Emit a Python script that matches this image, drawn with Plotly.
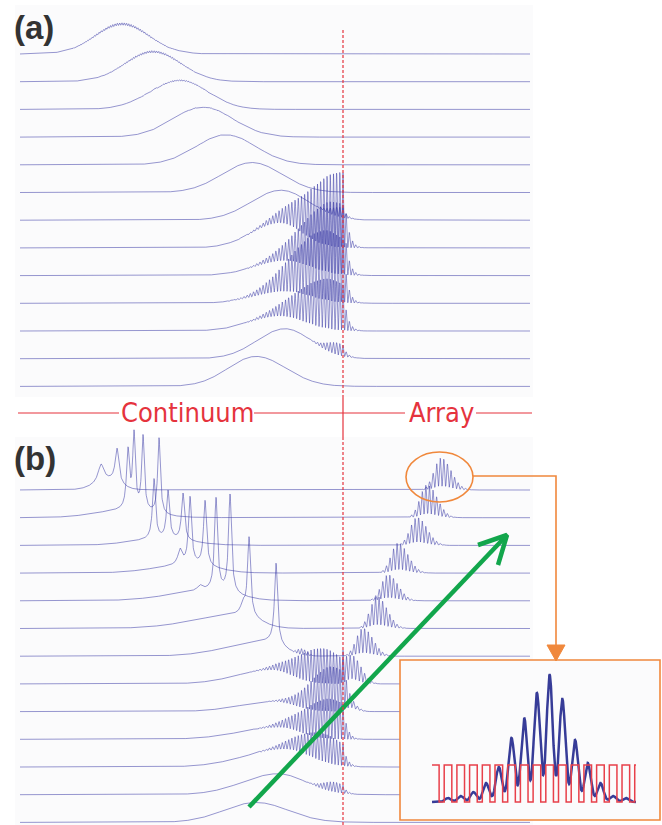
import numpy as np
import plotly.graph_objects as go

W, H = 662, 825
X_START, X_END = 20, 530          # horizontal extent of every trace
WALL_X = 343                      # continuum / array interface
ROW_STEP = 27.7                   # vertical offset between time steps
A_FIRST_BASE = 54                 # baseline of the first row in panel (a)
B_FIRST_BASE = 490                # baseline of the first row in panel (b)
FRINGE_PERIOD = 3.2               # interference fringe spacing
GUIDE_PERIOD = 3.6                # spacing of guides in the array

TRACE_COLOR = "rgba(55,55,165,0.52)"
RED = "#e5333d"
ORANGE = "#f0883c"
GREEN = "#12a64c"
PANEL_BG = "#fbfbfc"

# ---------------- panel (a): packet reflected at the interface -------------
a_pk_center = [122, 153, 180, 203, 226, 252, 281, 280, 285, 285, 280, 285, 256]
a_pk_height = [30, 30, 29, 30, 30, 30, 30, 25, 15, 12, 15, 30, 30]
a_pk_sig_l = [27, 28, 30, 30, 30, 30, 30, 28, 30, 30, 30, 28, 28]
a_pk_sig_r = [27, 28, 28, 30, 30, 30, 28, 22, 25, 25, 25, 26, 30]
a_ripple = [1.2, 1.0, 0.6, 0.3, 0.2, 0, 0, 0, 0, 0, 0, 0, 0]
a_fr_center = [0, 0, 0, 0, 0, 0, 343, 340, 335, 328, 330, 338, 0]
a_fr_height = [0, 0, 0, 0, 0, 0, 10, 75, 72, 70, 50, 12, 0]
a_fr_sigma = [1, 1, 1, 1, 1, 1, 12, 32, 30, 32, 30, 12, 1]

# ---------------- panel (b): coupling into the array ----------------------
b_ped_center = [110, 125, 160, 190, 210, 240, 268, 272, 275, 280, 285, 278, 256]
b_ped_height = [9, 7, 6, 8, 10, 14, 15, 14, 10, 12, 18, 21, 20]
b_ped_sig_l = [14, 30, 30, 35, 40, 45, 40, 35, 35, 40, 40, 35, 32]
b_ped_sig_r = [10, 25, 30, 25, 25, 18, 15, 20, 20, 20, 25, 28, 32]
b_lines = [
    [(101, 18, 3.5), (117, 34, 2.2)],
    [(128, 58, 1.8), (134, 74, 1.6), (143, 74, 1.6), (159, 76, 1.6)],
    [(154, 60, 1.8), (168, 48, 1.8), (183, 47, 1.8)],
    [(180, 15, 2.5), (190, 67, 1.8), (205, 65, 1.8)],
    [(200, 5, 3.0), (216, 92, 1.8), (230, 98, 1.8)],
    [(243, 10, 2.5), (249, 78, 1.8)],
    [(276, 80, 1.8)],
    [], [], [], [], [], [],
]
b_fr_center = [0, 0, 0, 0, 0, 0, 302, 322, 332, 330, 325, 335, 0]
b_fr_height = [0, 0, 0, 0, 0, 0, 6, 35, 45, 40, 28, 10, 0]
b_fr_sigma = [1, 1, 1, 1, 1, 1, 5, 25, 22, 26, 25, 12, 1]
b_arr_center = [441, 427, 417, 398, 388, 377, 363, 352, 346, 0, 0, 0, 0]
b_arr_height = [32, 33, 28, 30, 26, 32, 28, 28, 15, 0, 0, 0, 0]
b_arr_sig_l = [7, 7, 7, 7, 7, 7, 7, 6, 5, 1, 1, 1, 1]
b_arr_sig_r = [10, 10, 10, 10, 10, 10, 10, 9, 8, 1, 1, 1, 1]

# ---------------- inset: guide intensities and index profile --------------
inset_sites = list(range(15))
inset_power = [4, 6, 10, 19, 35, 64, 84, 109, 127, 103, 62, 39, 19, 6, 4]
inset_x_span = [-1.26, 14.8]
inset_index_high = 37
inset_guide_ids = list(range(-1, 16))
inset_guide_half = 0.3

x = np.arange(X_START, X_END + 0.001, 0.25)


def asym_gauss(xv, c, h, sl, sr):
    s = np.where(xv < c, sl, sr)
    return h * np.exp(-0.5 * ((xv - c) / s) ** 2)


def fringe(xv, c, h, s):
    if h == 0:
        return np.zeros_like(xv)
    inside = np.exp(-0.5 * ((xv - c) / s) ** 2)
    edge = np.exp(-0.5 * ((WALL_X - c) / s) ** 2) * np.exp(-(xv - WALL_X) / 4.0)
    env = np.where(xv <= WALL_X, inside, edge)
    return h * env * np.cos(np.pi * (xv - WALL_X) / FRINGE_PERIOD) ** 2


def sharp_lines(xv, peaks):
    out = np.zeros_like(xv)
    for c, h, w in peaks:
        out += h / (1 + ((xv - c) / w) ** 2)
    return out


def array_packet(xv, c, h, sl, sr):
    if h == 0:
        return np.zeros_like(xv)
    env = asym_gauss(xv, c, h, sl, sr) * (xv >= WALL_X - 2)
    return env * (0.12 + 0.88 * np.cos(np.pi * (xv - WALL_X) / GUIDE_PERIOD) ** 2)


fig = go.Figure()

# panel (a)
for k in range(len(a_pk_center)):
    base = A_FIRST_BASE + k * ROW_STEP
    smooth = asym_gauss(x, a_pk_center[k], a_pk_height[k], a_pk_sig_l[k], a_pk_sig_r[k])
    ripple = a_ripple[k] * (smooth / max(a_pk_height[k], 1)) * np.cos(2 * np.pi * x / 2.3)
    amp = smooth + ripple + fringe(x, a_fr_center[k], a_fr_height[k], a_fr_sigma[k])
    fig.add_trace(go.Scatter(x=x, y=base - amp, mode="lines",
                             line=dict(color=TRACE_COLOR, width=1),
                             hoverinfo="skip", showlegend=False))

# panel (b)
for k in range(len(b_ped_center)):
    base = B_FIRST_BASE + k * ROW_STEP
    amp = asym_gauss(x, b_ped_center[k], b_ped_height[k], b_ped_sig_l[k], b_ped_sig_r[k])
    amp = amp + sharp_lines(x, b_lines[k])
    amp = amp + fringe(x, b_fr_center[k], b_fr_height[k], b_fr_sigma[k])
    amp = amp + array_packet(x, b_arr_center[k], b_arr_height[k], b_arr_sig_l[k], b_arr_sig_r[k])
    fig.add_trace(go.Scatter(x=x, y=base - amp, mode="lines",
                             line=dict(color=TRACE_COLOR, width=1),
                             hoverinfo="skip", showlegend=False))

# green arrow showing the direction of transfer into the array
arrow_x = [249, 507]
arrow_y = [807, 535]
fig.add_trace(go.Scatter(x=arrow_x, y=arrow_y, mode="lines",
                         line=dict(color=GREEN, width=4.5),
                         hoverinfo="skip", showlegend=False))
fig.add_trace(go.Scatter(x=[478, 507, 498], y=[545, 535, 565], mode="lines",
                         line=dict(color=GREEN, width=4.5),
                         hoverinfo="skip", showlegend=False))

# inset: background, guide intensity profile, refractive index profile
xi = np.linspace(inset_x_span[0], inset_x_span[1], 1600)
yi = np.zeros_like(xi)
for n, p in zip(inset_sites, inset_power):
    yi += p * np.exp(-0.5 * ((xi - n) / 0.24) ** 2)

sq_x, sq_y = [inset_x_span[0]], [inset_index_high]
for g in inset_guide_ids:
    lo, hi = g - inset_guide_half, g + inset_guide_half
    for edge, level_before, level_after in ((lo, 0, inset_index_high), (hi, inset_index_high, 0)):
        if inset_x_span[0] < edge < inset_x_span[1]:
            sq_x += [edge, edge]
            sq_y += [level_before, level_after]
sq_x.append(inset_x_span[1])
sq_y.append(sq_y[-1])

X2_RANGE = [-3.78, 16.69]
Y2_RANGE = [-18, 142]
fig.add_trace(go.Scatter(x=[X2_RANGE[0], X2_RANGE[1], X2_RANGE[1], X2_RANGE[0], X2_RANGE[0]],
                         y=[Y2_RANGE[0], Y2_RANGE[0], Y2_RANGE[1], Y2_RANGE[1], Y2_RANGE[0]],
                         fill="toself", fillcolor=PANEL_BG, mode="lines",
                         line=dict(width=0), xaxis="x2", yaxis="y2",
                         hoverinfo="skip", showlegend=False))
fig.add_trace(go.Scatter(x=xi, y=yi, mode="lines", xaxis="x2", yaxis="y2",
                         line=dict(color="#373c98", width=2.5),
                         hoverinfo="skip", showlegend=False))
fig.add_trace(go.Scatter(x=sq_x, y=sq_y, mode="lines", xaxis="x2", yaxis="y2",
                         line=dict(color="#e8404a", width=1.5),
                         hoverinfo="skip", showlegend=False))

shapes = [
    # panel backgrounds
    dict(type="rect", xref="x", yref="y", x0=15, x1=533, y0=5, y1=397,
         fillcolor=PANEL_BG, line=dict(width=0), layer="below"),
    dict(type="rect", xref="x", yref="y", x0=15, x1=533, y0=437, y1=825,
         fillcolor=PANEL_BG, line=dict(width=0), layer="below"),
    # interface markers
    dict(type="line", xref="x", yref="y", x0=WALL_X, x1=WALL_X, y0=30, y1=397,
         line=dict(color=RED, width=1.2, dash="3px,2px")),
    dict(type="line", xref="x", yref="y", x0=WALL_X, x1=WALL_X, y0=437, y1=825,
         line=dict(color=RED, width=1.2, dash="3px,2px")),
    dict(type="line", xref="x", yref="y", x0=WALL_X, x1=WALL_X, y0=397, y1=437,
         line=dict(color=RED, width=1.2)),
    # region divider
    dict(type="line", xref="x", yref="y", x0=18, x1=119, y0=413, y1=413,
         line=dict(color=RED, width=1.2)),
    dict(type="line", xref="x", yref="y", x0=254, x1=405, y0=413, y1=413,
         line=dict(color=RED, width=1.2)),
    dict(type="line", xref="x", yref="y", x0=476, x1=532, y0=413, y1=413,
         line=dict(color=RED, width=1.2)),
    # highlight and connector to the inset
    dict(type="circle", xref="x", yref="y", x0=406, x1=473, y0=452, y1=502,
         line=dict(color=ORANGE, width=1.6)),
    dict(type="path", xref="x", yref="y", path="M 473 476 L 556 476 L 556 646",
         line=dict(color=ORANGE, width=1.6)),
    dict(type="path", xref="x", yref="y", path="M 547 645 L 565 645 L 556 661 Z",
         fillcolor=ORANGE, line=dict(color=ORANGE, width=1)),
    dict(type="rect", xref="x", yref="y", x0=400, x1=660, y0=660, y1=820,
         line=dict(color=ORANGE, width=1.6), layer="above"),
]

annotations = [
    dict(x=12, y=27, xref="x", yref="y", text="<b>(a)</b>", showarrow=False,
         xanchor="left", yanchor="middle",
         font=dict(family="Liberation Sans, Arial, sans-serif", size=33, color="#333333")),
    dict(x=12, y=458, xref="x", yref="y", text="<b>(b)</b>", showarrow=False,
         xanchor="left", yanchor="middle",
         font=dict(family="Liberation Sans, Arial, sans-serif", size=33, color="#333333")),
    dict(x=187, y=412, xref="x", yref="y", text="Continuum", showarrow=False,
         xanchor="center", yanchor="middle",
         font=dict(family="Liberation Sans Narrow, DejaVu Sans Condensed, Arial Narrow, sans-serif",
                   size=27, color=RED)),
    dict(x=441, y=412, xref="x", yref="y", text="Array", showarrow=False,
         xanchor="center", yanchor="middle",
         font=dict(family="Liberation Sans Narrow, DejaVu Sans Condensed, Arial Narrow, sans-serif",
                   size=27, color=RED)),
]

fig.update_layout(
    width=W, height=H,
    margin=dict(l=0, r=0, t=0, b=0),
    paper_bgcolor="white", plot_bgcolor="rgba(0,0,0,0)",
    xaxis=dict(range=[0, W], visible=False, fixedrange=True, domain=[0, 1]),
    yaxis=dict(range=[H, 0], visible=False, fixedrange=True, domain=[0, 1]),
    xaxis2=dict(range=X2_RANGE, visible=False, fixedrange=True,
                domain=[400 / W, 660 / W], anchor="y2"),
    yaxis2=dict(range=Y2_RANGE, visible=False, fixedrange=True,
                domain=[5 / H, 165 / H], anchor="x2"),
    shapes=shapes,
    annotations=annotations,
    showlegend=False,
)

fig.write_html("out.html")
